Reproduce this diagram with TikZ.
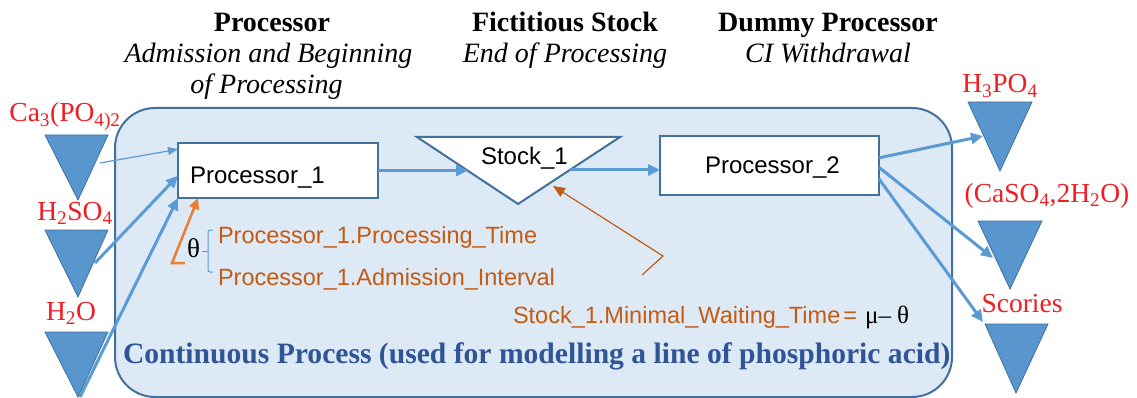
\documentclass[tikz,border=0pt]{standalone}
\usepackage{fontspec}
\setmainfont{Liberation Serif}
\setsansfont{Liberation Sans}
\usetikzlibrary{arrows.meta}
\definecolor{bgfill}{HTML}{DDEAF6}
\definecolor{bord}{HTML}{41719C}
\definecolor{flow}{HTML}{5B9BD5}
\definecolor{trifill}{HTML}{5A96CE}
\definecolor{orgtext}{HTML}{C55A11}
\definecolor{orgarr}{HTML}{ED7D31}
\definecolor{redlab}{HTML}{F01E23}
\definecolor{navy}{HTML}{2F5597}
\newcommand{\fsz}[1]{\fontsize{#1}{#1}\selectfont}
\begin{document}
\begin{tikzpicture}[x=1pt,y=-1pt,
  every node/.style={inner sep=0pt, outer sep=0pt},
  procbox/.style={draw=bord, line width=2pt, fill=white},
  boxtext/.style={anchor=base west, font=\sffamily\fsz{24}},
  hdbold/.style={anchor=base, font=\bfseries\fsz{28}},
  hdital/.style={anchor=base, font=\itshape\fsz{28}},
  chem/.style={anchor=base, text=redlab, font=\fsz{27.5}},
  param/.style={anchor=base west, text=orgtext, font=\sffamily\fsz{23.5}},
  flowthick/.style={draw=flow, line width=3pt, -{Triangle[length=12pt,width=11pt]}},
  flowthin/.style={draw=flow, line width=1.2pt, -{Triangle[length=10pt,width=8pt]}},
  tank/.style={fill=trifill, draw=bord, line width=0.8pt, line join=miter},
]
\useasboundingbox (0,0) rectangle (1137,398);

% container
\node[draw=bord, fill=bgfill, line width=2pt, rounded corners=40pt,
      minimum width=837pt, minimum height=289pt] (cp) at (533.5,252.5) {};
\node[anchor=base west, text=navy, font=\bfseries\fsz{29.6}] (cpt) at (123,363)
  {Continuous Process (used for modelling a line of phosphoric acid)};

% headers
\node[hdbold] (h1) at (272,32) {Processor};
\node[hdital] (h1a) at (268.5,63) {Admission and Beginning};
\node[hdital] (h1b) at (266.5,94) {of Processing};
\node[hdbold] (h2) at (565,32) {Fictitious Stock};
\node[hdital] (h2a) at (565,63) {End of Processing};
\node[hdbold] (h3) at (828,32) {Dummy Processor};
\node[hdital] (h3a) at (828,63) {CI Withdrawal};

% input tanks
\path[tank] (45,135) -- (108,135) -- (78,200) -- cycle;
\path[tank] (45,230) -- (108,230) -- (78,297) -- cycle;
\path[tank] (45,332) -- (108,332) -- (78,397) -- cycle;
\node[chem] (lca) at (65,122) {Ca\textsubscript{3}(PO\textsubscript{4)2}};
\node[chem] (lh2so4) at (75,220) {H\textsubscript{2}SO\textsubscript{4}};
\node[chem] (lh2o) at (71,320) {H\textsubscript{2}O};
\coordinate (caout) at (100,163);
\coordinate (h2so4out) at (95,263);
\coordinate (h2oout) at (80,397);

% output tanks
\path[tank] (968,102) -- (1032,102) -- (1000,171) -- cycle;
\path[tank] (978,221) -- (1042,221) -- (1010,289) -- cycle;
\path[tank] (985,324) -- (1048,324) -- (1016,393) -- cycle;
\node[chem] (lh3po4) at (1000,93) {H\textsubscript{3}PO\textsubscript{4}};
\node[chem] (lgyps) at (1047,202) {(CaSO\textsubscript{4},2H\textsubscript{2}O)};
\node[chem] (lsco) at (1022,312) {Scories};
\coordinate (h3po4in) at (983,136);
\coordinate (gypsin) at (993,258);
\coordinate (scoin) at (983,322);

% processors
\node[procbox, minimum width=200pt, minimum height=55pt] (p1) at (278,170.5) {};
\node[boxtext] (p1t) at (190,183) {Processor\_1};
\node[procbox, minimum width=219pt, minimum height=59pt] (p2) at (769.5,165.5) {};
\node[boxtext] (p2t) at (705,174) {Processor\_2};

% stock
\path[draw=bord, line width=2pt, fill=white, line join=miter]
  (417,137) -- (620,137) -- (518,204) -- cycle;
\node[boxtext] (s1t) at (481,165) {Stock\_1};
\coordinate (s1in) at (468,170.5);
\coordinate (s1out) at (570,170);
\coordinate (s1low) at (553,186);

% flows
\draw[flowthin] (caout) -- (p1.168);
\draw[flowthick] (h2so4out) -- (p1.183);
\draw[flowthick] (h2oout) -- (p1.south west);
\draw[flowthick] (p1.east) -- (s1in);
\draw[flowthick] (s1out) -- (s1out -| p2.west);
\draw[flowthick] (p2.4) -- (h3po4in);
\draw[flowthick] (p2.-1) -- (gypsin);
\draw[flowthick] (p2.-7) -- (scoin);

% parameters
\draw[orgarr, line width=2.5pt, line join=miter, -{Triangle[length=11pt,width=10pt]}]
  (185,263) -- (172,263) -- (p1.199);
\node[anchor=base, font=\fsz{27}] (th) at (193.5,257) {θ};
\draw[flow, line width=1pt, rounded corners=2pt] (213,230) -- (208,230) -- (208,272) -- (213,272);
\draw[flow, line width=1pt] (208,251) -- (202,251);
\node[param] (pt) at (218,243) {Processor\_1.Processing\_Time};
\node[param] (ai) at (218,285) {Processor\_1.Admission\_Interval};
\node[param] (mwt) at (513,323) {Stock\_1.Minimal\_Waiting\_Time\hspace{3pt}=\hspace{8pt}{\rmfamily\color{black}\fsz{25}μ– θ}};
\draw[orgtext, line width=1.2pt, -{Triangle[length=12pt,width=10pt]}]
  (642,275) -- (663,256) -- (s1low);
\end{tikzpicture}
\end{document}
